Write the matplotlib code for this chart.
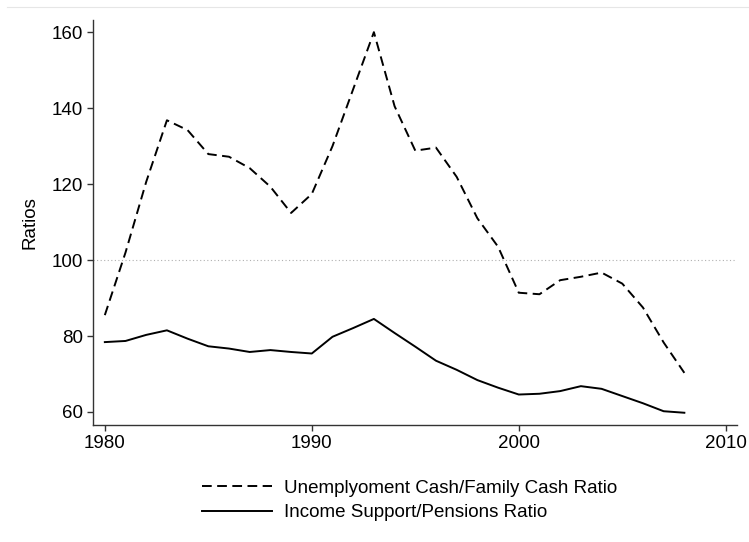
import matplotlib
matplotlib.use("Agg")
import matplotlib.pyplot as plt
from matplotlib.lines import Line2D

years = list(range(1980, 2009))
unemp_family = [85.5, 102, 120.6, 136.8, 134.2, 127.9, 127.2, 124.2, 119.3, 112.4,
                117.4, 130, 145, 160, 140.5, 128.8, 129.6, 121.9, 111, 103.5,
                91.4, 91, 94.7, 95.6, 96.7, 93.8, 87.5, 78.3, 70.3]
income_pensions = [78.4, 78.7, 80.3, 81.5, 79.3, 77.3, 76.7, 75.8, 76.3, 75.8,
                   75.4, 79.8, 82.1, 84.5, 80.8, 77.2, 73.5, 71.1, 68.4, 66.4,
                   64.6, 64.8, 65.5, 66.8, 66.1, 64.2, 62.3, 60.2, 59.8]
labels = ["Unemplyoment Cash/Family Cash Ratio", "Income Support/Pensions Ratio"]
xticks = [1980, 1990, 2000, 2010]
yticks = [60, 80, 100, 120, 140, 160]

plt.rcParams['font.family'] = ['Liberation Sans', 'DejaVu Sans']
plt.rcParams['font.size'] = 13.5

fig = plt.figure(figsize=(7.49, 5.42), dpi=100)
ax = fig.add_axes([0.1242, 0.2159, 0.8594, 0.7472])

# faint frame line at the top of the picture
fig.add_artist(Line2D([7 / 749, 1], [1 - 7 / 542, 1 - 7 / 542],
                      transform=fig.transFigure, color='#e6e6e6', lw=0.8))

ax.axhline(100, color='#b0b0b0', ls=(0, (1, 2.2)), lw=0.8, zorder=1)
ax.plot(years, unemp_family, color='black', lw=1.4, dashes=(5, 2.8), label=labels[0])
ax.plot(years, income_pensions, color='black', lw=1.4, label=labels[1])

ax.set_xlim(1979.43, 2010.53)
ax.set_ylim(56.58, 163.2)
ax.set_xticks(xticks)
ax.set_yticks(yticks)
ax.set_ylabel("Ratios", labelpad=10)

for s in ['top', 'right']:
    ax.spines[s].set_visible(False)
for s in ['left', 'bottom']:
    ax.spines[s].set_color('#333333')
    ax.spines[s].set_linewidth(1.0)
ax.tick_params(length=4, width=1.0, color='#333333', pad=3, labelsize=13.5)

fig.legend(loc='center left', bbox_to_anchor=(0.2693, 0.0765), frameon=False,
           handlelength=3.75, handletextpad=0.65, borderpad=0, borderaxespad=0,
           labelspacing=0.38, fontsize=13.5)

fig.savefig("out.png", dpi=100)
